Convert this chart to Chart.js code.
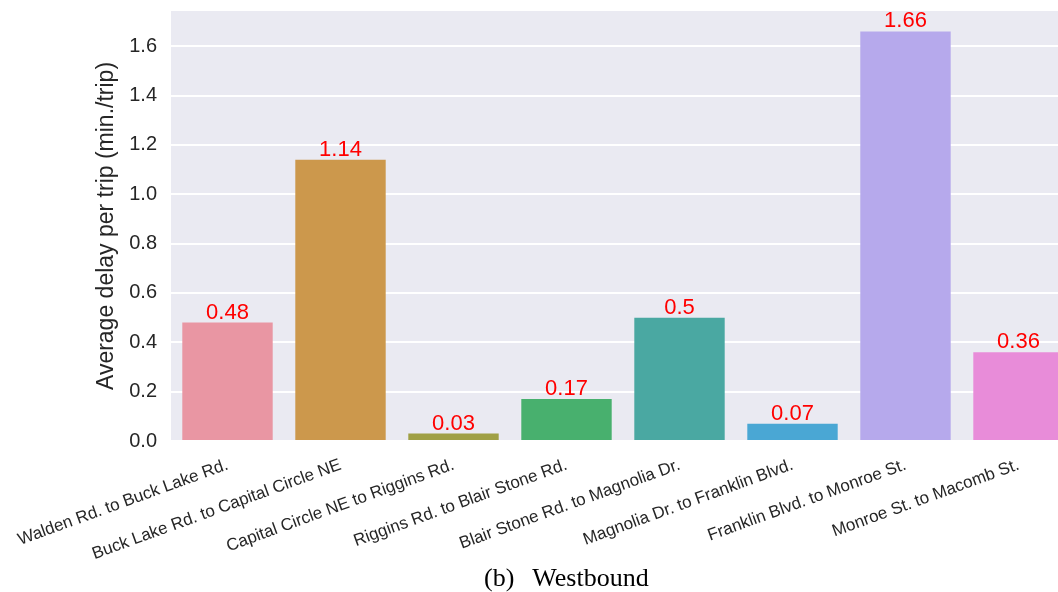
<!DOCTYPE html>
<html>
<head>
<meta charset="utf-8">
<script src="https://cdn.jsdelivr.net/npm/chart.js@4.4.1/dist/chart.umd.min.js"></script>
<style>
html,body{margin:0;padding:0;background:#fff;overflow:hidden}
#wrap{position:relative;width:1058px;height:592px;overflow:hidden}
#caption{position:absolute;left:484px;top:563px;font-family:"Liberation Serif","Times New Roman",serif;font-size:26px;color:#000;white-space:nowrap}
#caption span{margin-left:18px}
</style>
</head>
<body>
<div id="wrap">
<canvas id="delayChart" width="1075" height="592"></canvas>
<div id="caption">(b)<span>Westbound</span></div>
</div>
<script>
const segments = [
"Walden Rd. to Buck Lake Rd.",
"Buck Lake Rd. to Capital Circle NE",
"Capital Circle NE to Riggins Rd.",
"Riggins Rd. to Blair Stone Rd.",
"Blair Stone Rd. to Magnolia Dr.",
"Magnolia Dr. to Franklin Blvd.",
"Franklin Blvd. to Monroe St.",
"Monroe St. to Macomb St."
]

const delays = [0.48, 1.14, 0.03, 0.17, 0.5, 0.07, 1.66, 0.36]

const barColors = ["#e996a3","#cc984c","#a0a045","#48b06e","#4aa8a2","#4aa7d4","#b6a9ec","#e88cd9"]

const font = "'Liberation Sans', Arial, sans-serif"

const plotBg = {
id:"plotBg",
beforeDraw(chart){
const a = chart.chartArea
const c = chart.ctx
c.save()
c.fillStyle = "#eaeaf2"
c.fillRect(a.left, a.top, a.right - a.left, a.bottom - a.top)
c.restore()
}
}

const valueLabels = {
id:"valueLabels",
afterDatasetsDraw(chart){
const c = chart.ctx
const meta = chart.getDatasetMeta(0)
c.save()
c.fillStyle = "#ff0000"
c.font = "22px " + font
c.textAlign = "center"
c.textBaseline = "alphabetic"
meta.data.forEach((bar, i) => {
c.fillText(String(delays[i]), bar.x, bar.y - 4)
})
c.restore()
}
}

new Chart(document.getElementById("delayChart"),{
type:"bar",
data:{
labels:segments,
datasets:[{
data:delays,
backgroundColor:barColors,
borderWidth:0,
barPercentage:0.8,
categoryPercentage:1
}]
},
options:{
responsive:false,
animation:false,
layout:{padding:{left:90,top:11,right:0,bottom:0}},
plugins:{
legend:{display:false},
tooltip:{enabled:false}
},
scales:{
x:{
grid:{display:false},
border:{display:false},
afterFit(s){ s.height = 151; s.paddingLeft = 0; s.paddingRight = 0 },
ticks:{
autoSkip:false,
minRotation:20,
maxRotation:20,
padding:6,
color:"#262626",
font:{family:font, size:17}
}
},
y:{
min:0,
max:1.743,
afterFit(s){ s.width = 81; s.paddingTop = 0; s.paddingBottom = 0 },
grid:{color:"#ffffff", lineWidth:2, drawTicks:false},
border:{display:false},
ticks:{
stepSize:0.2,
includeBounds:false,
padding:14,
color:"#262626",
font:{family:font, size:20},
callback:v => v.toFixed(1)
},
title:{
display:true,
text:"Average delay per trip (min./trip)",
color:"#262626",
font:{family:font, size:23},
padding:{top:3, bottom:0}
}
}
}
},
plugins:[plotBg, valueLabels]
})
</script>
</body>
</html>
